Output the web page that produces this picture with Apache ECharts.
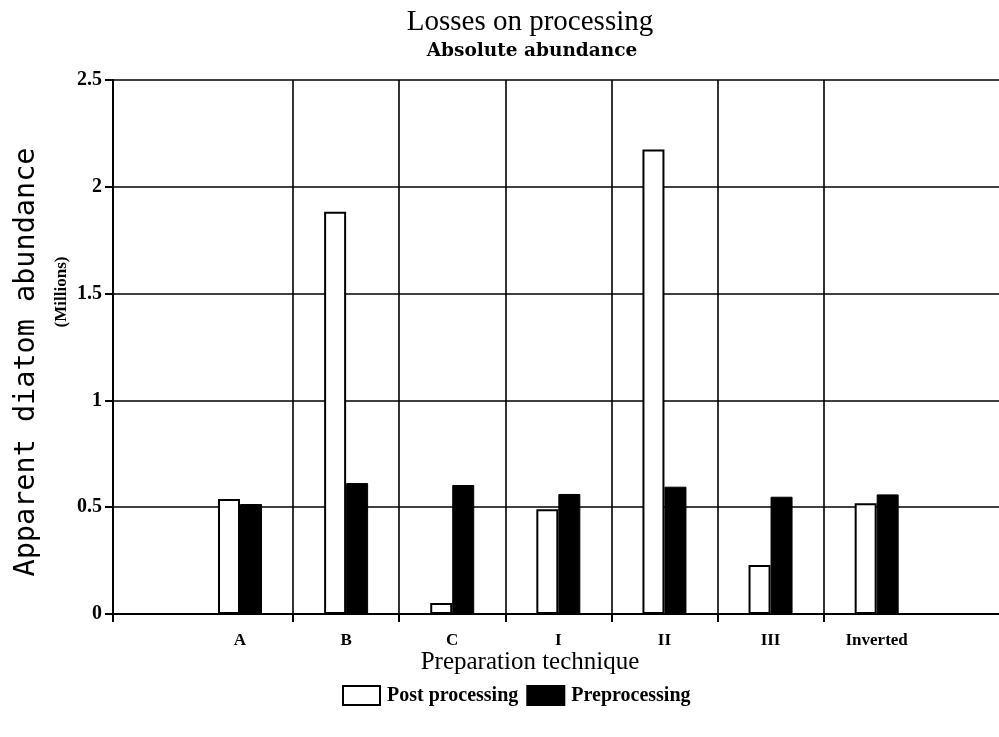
<!DOCTYPE html>
<html>
<head>
<meta charset="utf-8">
<title>Losses on processing</title>
<script src="https://cdn.jsdelivr.net/npm/echarts@6/dist/echarts.min.js"></script>
<style>
  html, body { margin: 0; padding: 0; background: #fff; }
  #chart { width: 999px; height: 737px; }
</style>
</head>
<body>
<div id="chart"></div>
<script>
// Preparation techniques, one per bar pair
const categories = ['A', 'B', 'C', 'I', 'II', 'III', 'Inverted'];
// Apparent diatom abundance (millions)
const postProcessing = [0.538, 1.883, 0.051, 0.49, 2.175, 0.229, 0.518];
const preprocessing = [0.515, 0.613, 0.604, 0.562, 0.596, 0.549, 0.56];
// Y axis ticks
const yTicks = [0, 0.5, 1, 1.5, 2, 2.5];

const xMin = -1.197;
const xMax = 7.153;
const positions = categories.map((_, i) => i);
// divider lines sit halfway between neighbouring techniques
const dividers = categories.slice(1).map((_, i) => i + 0.5);

const serif = '"Liberation Serif", "DejaVu Serif", serif';
const chart = echarts.init(document.getElementById('chart'));

chart.setOption({
  animation: false,
  backgroundColor: '#ffffff',
  grid: { left: 113, right: 0, top: 80, bottom: 123 },
  xAxis: {
    type: 'value',
    min: xMin,
    max: xMax,
    axisLine: { show: true, onZero: false, lineStyle: { color: '#000', width: 2 } },
    axisTick: { show: true, customValues: [xMin].concat(dividers), length: 8, lineStyle: { color: '#000', width: 2 } },
    splitLine: { show: true, lineStyle: { color: '#000', width: 1.6 } },
    axisLabel: {
      customValues: positions,
      formatter: v => categories[Math.round(v)],
      color: '#000', fontFamily: serif, fontWeight: 'bold', fontSize: 17, margin: 18
    }
  },
  yAxis: {
    type: 'value',
    min: yTicks[0],
    max: yTicks[yTicks.length - 1],
    interval: 0.5,
    axisLine: { show: true, onZero: false, lineStyle: { color: '#000', width: 2 } },
    axisTick: { show: true, length: 8, lineStyle: { color: '#000', width: 2 } },
    splitLine: { show: true, lineStyle: { color: '#000', width: 1.6 } },
    axisLabel: { color: '#000', fontFamily: serif, fontWeight: 'bold', fontSize: 20, margin: 11 }
  },
  legend: {
    left: 337, top: 680,
    icon: 'rect',
    itemWidth: 37, itemHeight: 19, itemGap: 8,
    textStyle: { color: '#000', fontFamily: serif, fontWeight: 'bold', fontSize: 20, padding: [0, 0, 0, 2] },
    data: [
      { name: 'Post processing', itemStyle: { color: '#fff', borderColor: '#000', borderWidth: 2 }, textStyle: { width: 143 } },
      { name: 'Preprocessing', itemStyle: { color: '#000' } }
    ]
  },
  series: [
    {
      name: 'Post processing',
      type: 'bar',
      barWidth: 22,
      barGap: '0%',
      itemStyle: { color: '#fff', borderColor: '#000', borderWidth: 2 },
      data: postProcessing.map((v, i) => [positions[i], v])
    },
    {
      name: 'Preprocessing',
      type: 'bar',
      barWidth: 22,
      barGap: '0%',
      itemStyle: { color: '#000', borderColor: '#000', borderWidth: 1 },
      data: preprocessing.map((v, i) => [positions[i], v])
    }
  ],
  graphic: [
    {
      type: 'text', x: 530, y: 22,
      style: { text: 'Losses on processing', fill: '#000', font: '29px ' + serif, textAlign: 'center', textVerticalAlign: 'middle' }
    },
    {
      type: 'text', x: 532, y: 51,
      style: { text: 'Absolute abundance', fill: '#000', font: 'bold 18.5px "DejaVu Serif", serif', textAlign: 'center', textVerticalAlign: 'middle' }
    },
    {
      type: 'text', x: 530, y: 662,
      style: { text: 'Preparation technique', fill: '#000', font: '25px ' + serif, textAlign: 'center', textVerticalAlign: 'middle' }
    },
    {
      type: 'text', x: 27, y: 362, rotation: Math.PI / 2,
      style: { text: 'Apparent diatom abundance', fill: '#000', font: '28.5px "DejaVu Sans Mono", monospace', textAlign: 'center', textVerticalAlign: 'middle' }
    },
    {
      type: 'text', x: 62, y: 292, rotation: Math.PI / 2,
      style: { text: '(Millions)', fill: '#000', font: 'bold 17px ' + serif, textAlign: 'center', textVerticalAlign: 'middle' }
    }
  ]
});
</script>
</body>
</html>
